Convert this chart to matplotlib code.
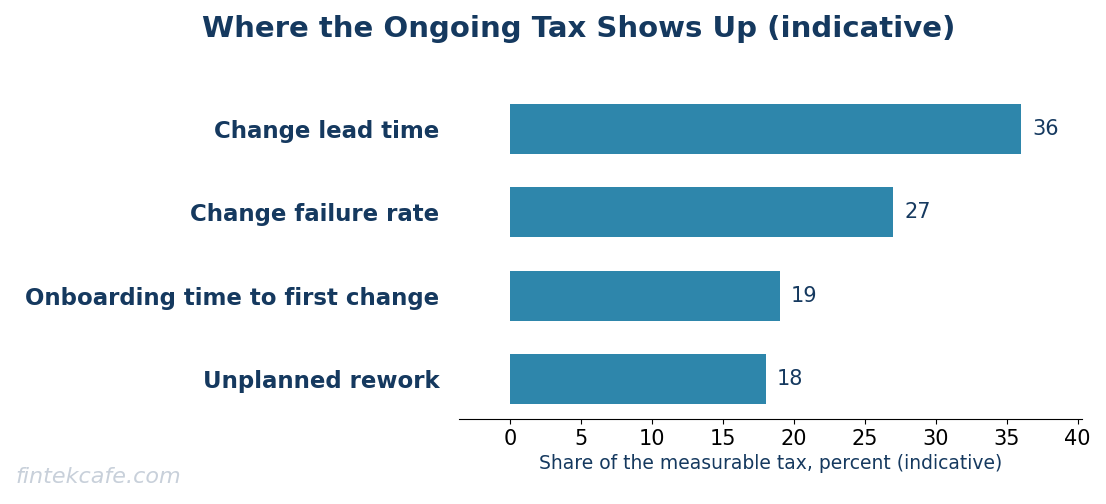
import matplotlib
matplotlib.use("Agg")
import matplotlib.pyplot as plt

categories = ["Change lead time", "Change failure rate", "Onboarding time to first change", "Unplanned rework"]
values = [36, 27, 19, 18]
xticks = [0, 5, 10, 15, 20, 25, 30, 35, 40]

navy = "#15395f"
fig = plt.figure(figsize=(11.06, 5.04), dpi=100)
ax = fig.add_axes([0.415, 0.169, 0.563, 0.654])
y = list(range(len(categories)))
ax.barh(y, values, height=0.6, color="#2e86ab")
for yi, v in zip(y, values):
    ax.text(v + 0.8, yi, f"{v}", va="center", ha="left", fontsize=15, color=navy)
ax.set_ylim(3.48, -0.48)
ax.set_xlim(-3.6, 40.28)
ax.set_yticks(y)
ax.set_yticklabels(categories, fontsize=16.5, fontweight="bold", color=navy)
ax.tick_params(axis="y", length=0, pad=14)
ax.set_xticks(xticks)
ax.tick_params(axis="x", labelsize=15)
for s in ["top", "right", "left"]:
    ax.spines[s].set_visible(False)
ax.set_xlabel("Share of the measurable tax, percent (indicative)", fontsize=13.5, color=navy, labelpad=4)
fig.text(0.523, 0.943, "Where the Ongoing Tax Shows Up (indicative)", ha="center", va="center",
         fontsize=21, fontweight="bold", color=navy)
fig.text(0.014, 0.053, "fintekcafe.com", fontsize=16, color="#c8d0da", style="italic", va="center")
fig.savefig("out.png", dpi=100)
